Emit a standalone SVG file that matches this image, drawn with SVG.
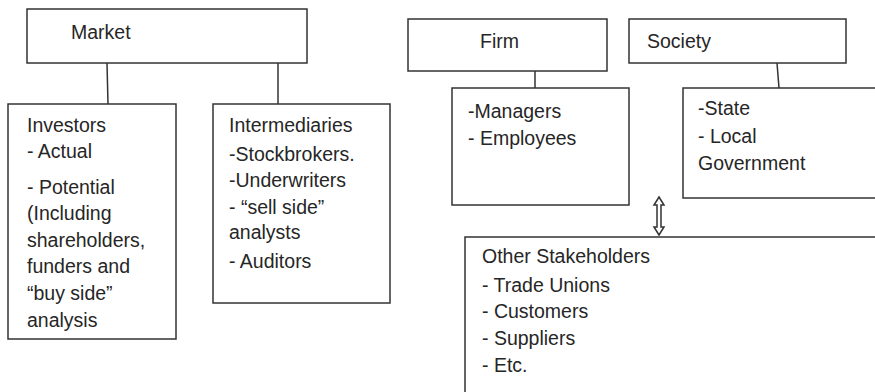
<svg xmlns="http://www.w3.org/2000/svg" width="875" height="392" viewBox="0 0 875 392">
<style>
.box{fill:#fff;stroke:#333;stroke-width:1.5}
.ln{stroke:#333;stroke-width:1.5;fill:none}
text{font-family:"Liberation Sans",Arial,sans-serif;font-size:19.5px;fill:#262626}
</style>
<rect width="875" height="392" fill="#fff"/>
<g id="connectors">
<line class="ln" x1="107" y1="63" x2="108" y2="104"/>
<line class="ln" x1="278" y1="63" x2="278" y2="104"/>
<line class="ln" x1="535" y1="71" x2="535" y2="88"/>
<line class="ln" x1="777" y1="63" x2="779" y2="88"/>
<polygon class="ln" points="659,197 664,205 661,205 661,227 664,227 659,235 654,227 657,227 657,205 654,205"/>
</g>
<g id="market">
<rect class="box" x="27" y="9" width="280" height="54"/>
<text x="71" y="39">Market</text>
</g>
<g id="investors">
<rect class="box" x="8" y="104" width="168" height="235"/>
<text x="27" y="132">Investors</text>
<text x="27" y="158">- Actual</text>
<text x="27" y="194">- Potential</text>
<text x="27" y="220">(Including</text>
<text x="27" y="247">shareholders,</text>
<text x="27" y="273">funders and</text>
<text x="27" y="300">“buy side”</text>
<text x="27" y="327">analysis</text>
</g>
<g id="intermediaries">
<rect class="box" x="213" y="104" width="177" height="199"/>
<text x="229" y="132">Intermediaries</text>
<text x="229" y="161">-Stockbrokers.</text>
<text x="229" y="187">-Underwriters</text>
<text x="229" y="214">- “sell side”</text>
<text x="229" y="239">analysts</text>
<text x="229" y="268">- Auditors</text>
</g>
<g id="firm">
<rect class="box" x="408" y="19" width="199" height="52"/>
<text x="480" y="48">Firm</text>
</g>
<g id="society">
<rect class="box" x="629" y="19" width="217" height="44"/>
<text x="647" y="48">Society</text>
</g>
<g id="firm-members">
<rect class="box" x="452" y="88" width="177" height="117"/>
<text x="468" y="118">-Managers</text>
<text x="468" y="145">- Employees</text>
</g>
<g id="society-members">
<rect class="box" x="683" y="88" width="200" height="110"/>
<text x="698" y="115">-State</text>
<text x="698" y="143">- Local</text>
<text x="698" y="170">Government</text>
</g>
<g id="other-stakeholders">
<rect class="box" x="465" y="237" width="420" height="170"/>
<text x="482" y="263">Other Stakeholders</text>
<text x="482" y="292">- Trade Unions</text>
<text x="482" y="318">- Customers</text>
<text x="482" y="345">- Suppliers</text>
<text x="482" y="372">- Etc.</text>
</g>
</svg>
